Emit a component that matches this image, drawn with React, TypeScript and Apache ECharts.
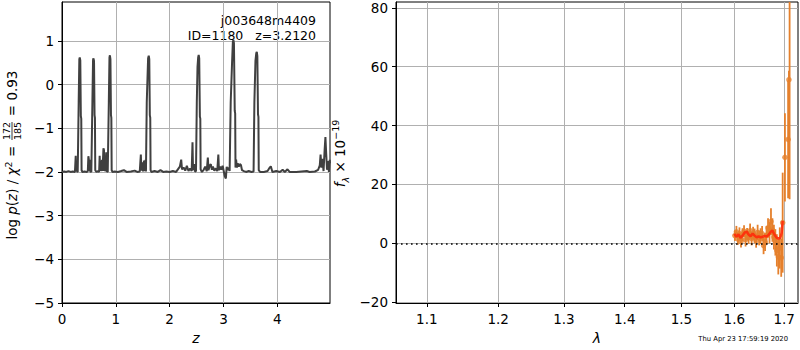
import React, { useEffect, useRef } from 'react';
import * as echarts from 'echarts';

// ---------- Left panel: log p(z) ----------
const zVals = [
  0.0, 0.04, 0.08, 0.12, 0.16, 0.2, 0.24, 0.255, 0.262, 0.272, 0.28, 0.292, 0.31, 0.322, 0.33, 0.34, 0.35, 0.358, 0.364,
  0.38, 0.42, 0.46, 0.48, 0.49, 0.498, 0.505, 0.515, 0.525, 0.545, 0.565, 0.577, 0.585, 0.595, 0.605, 0.612, 0.618,
  0.64, 0.67, 0.69, 0.7, 0.708, 0.72, 0.728, 0.745, 0.753, 0.77, 0.78, 0.788, 0.8, 0.808, 0.822, 0.83, 0.85, 0.87,
  0.882, 0.89, 0.9, 0.91, 0.917, 0.923, 0.94, 0.98, 1.04, 1.1, 1.15, 1.2, 1.28, 1.35, 1.4, 1.445, 1.465, 1.475, 1.495,
  1.505, 1.525, 1.535, 1.552, 1.56, 1.575, 1.6, 1.612, 1.622, 1.632, 1.64, 1.646, 1.66, 1.72, 1.78, 1.83, 1.88, 1.94,
  2.0, 2.06, 2.12, 2.16, 2.19, 2.215, 2.23, 2.26, 2.29, 2.32, 2.35, 2.38, 2.41, 2.425, 2.435, 2.455, 2.47, 2.49, 2.505,
  2.518, 2.53, 2.54, 2.55, 2.562, 2.57, 2.576, 2.6, 2.63, 2.66, 2.69, 2.71, 2.722, 2.745, 2.765, 2.785, 2.805, 2.83,
  2.86, 2.885, 2.905, 2.917, 2.94, 2.96, 2.985, 3.005, 3.025, 3.045, 3.06, 3.075, 3.095, 3.115, 3.135, 3.16, 3.175,
  3.185, 3.195, 3.21, 3.218, 3.224, 3.235, 3.25, 3.265, 3.285, 3.305, 3.325, 3.345, 3.38, 3.42, 3.47, 3.52, 3.56,
  3.575, 3.595, 3.61, 3.62, 3.63, 3.642, 3.65, 3.656, 3.68, 3.75, 3.82, 3.86, 3.88, 3.91, 3.98, 4.05, 4.1, 4.14, 4.19,
  4.23, 4.35, 4.45, 4.55, 4.6, 4.7, 4.76, 4.79, 4.805, 4.82, 4.84, 4.86, 4.88, 4.895, 4.91, 4.925, 4.945, 4.96, 4.975,
  4.98,
];
const logpVals = [
  -2.0, -1.99, -2.0, -1.98, -2.0, -1.99, -2.0, -1.63, -1.98, -1.76, -1.99, -2.0, -0.4, 0.58, 0.62, 0.55, -0.72, -0.78,
  -1.96, -2.0, -1.99, -2.0, -1.98, -1.64, -1.7, -1.98, -1.72, -1.99, -2.0, -0.4, 0.56, 0.6, 0.54, -0.7, -0.76, -1.96,
  -2.0, -1.98, -2.0, -1.63, -1.97, -1.74, -1.98, -1.72, -1.98, -1.46, -1.5, -1.98, -1.8, -1.99, -1.55, -1.98, -2.0,
  -0.4, 0.62, 0.67, 0.58, -0.7, -0.76, -1.96, -2.0, -1.99, -2.0, -1.98, -1.96, -2.0, -1.99, -1.97, -2.0, -1.99, -1.6,
  -1.97, -1.78, -1.99, -1.74, -1.98, -1.72, -1.99, -0.4, 0.6, 0.66, 0.58, -0.7, -0.76, -1.96, -2.0, -1.98, -2.0, -1.96,
  -2.0, -1.99, -2.0, -1.98, -2.0, -1.93, -1.88, -1.72, -1.94, -1.9, -1.97, -1.86, -1.98, -1.92, -1.98, -1.32, -1.96,
  -1.82, -1.99, -1.98, -0.4, 0.4, 0.62, 0.68, 0.6, -0.73, -0.78, -1.94, -2.0, -1.96, -1.88, -1.98, -1.67, -1.96, -1.85,
  -1.82, -1.95, -1.88, -1.97, -1.92, -1.98, -1.6, -1.96, -1.88, -1.95, -1.86, -1.98, -2.1, -2.15, -1.88, -1.96, -1.9,
  -1.98, -0.4, 0.5, 0.98, 1.02, 0.95, -0.6, -0.66, -1.9, -1.72, -1.9, -1.8, -1.88, -1.82, -1.84, -1.96, -1.98, -2.0,
  -1.98, -2.0, -1.99, -0.4, 0.55, 0.72, 0.75, 0.65, -0.68, -0.74, -1.96, -2.0, -2.0, -1.98, -1.9, -1.87, -2.0, -1.98,
  -2.0, -1.95, -2.0, -1.94, -2.0, -2.0, -1.99, -1.98, -2.0, -1.99, -1.95, -1.85, -1.6, -1.9, -1.7, -1.98, -1.5, -1.2,
  -1.6, -1.95, -1.75, -2.0, -1.72, -1.8,
];
const zTicks = [0, 1, 2, 3, 4];
const logpTicks = [-5, -4, -3, -2, -1, 0, 1];

// ---------- Right panel: spectrum ----------
const specWave = [
  1.601, 1.604, 1.607, 1.61, 1.613, 1.616, 1.619, 1.622, 1.625, 1.628, 1.631, 1.634, 1.637, 1.64, 1.643, 1.646, 1.649,
  1.652, 1.655, 1.658, 1.661, 1.664, 1.667, 1.67, 1.673, 1.676, 1.679, 1.682, 1.685, 1.688, 1.691, 1.694, 1.697, 1.7017,
  1.7083, 1.71, 1.7114,
];
const specFlux = [
  2.6, 3.9, 1.4, 3.3, 0.6, 2.9, 4.1, 1.2, 3.1, 2.0, 4.3, 1.6, 3.4, 2.5, 0.9, 3.7, 1.8, 2.4, 3.3, -0.8, 0.4, 2.8, 5.2,
  3.6, 7.4, 4.5, 2.1, 0.3, -2.4, -4.6, -1.6, -4.9, 7.0, 29.2, 35.3, 55.6, 100,
];
const specErr = [
  1.8, 2.0, 1.9, 2.1, 2.0, 2.2, 2.0, 2.3, 2.1, 2.2, 2.4, 2.3, 2.2, 2.5, 2.4, 2.6, 2.5, 2.7, 2.6, 2.9, 3.0, 3.1, 3.3,
  3.6, 4.5, 4.0, 4.2, 4.5, 5.5, 6.0, 7.0, 6.5, 17, 15, 20, 3, 85,
];
const modelWave = [
  1.6, 1.604, 1.608, 1.612, 1.616, 1.62, 1.624, 1.628, 1.632, 1.636, 1.64, 1.644, 1.648, 1.652, 1.656, 1.66, 1.664,
  1.668, 1.672, 1.676, 1.68, 1.684, 1.688, 1.692, 1.695, 1.697,
];
const modelFlux = [
  3.2, 2.2, 3.0, 1.8, 2.6, 3.6, 4.0, 3.0, 2.4, 3.3, 2.6, 2.0, 2.4, 2.0, 2.2, 2.5, 2.3, 2.8, 3.8, 4.3, 3.0, 2.0, 1.6,
  1.8, 3.5, 7.6,
];
const waveTicks = [1.1, 1.2, 1.3, 1.4, 1.5, 1.6, 1.7];
const fluxTicks = [-20, 0, 20, 40, 60, 80];

const objName = 'j003648m4409';
const objInfo = 'ID=1180   z=3.2120';
const stamp = 'Thu Apr 23 17:59:19 2020';

const FONT = 'DejaVu Sans';
const FS = 13.5;
const GRID_C = '#b0b0b0';
const ORANGE = '#e5802c';
const RED = '#ff2a0a';
const minus = (v: number | string) => String(v).replace('-', '\u2212');

function axisBase(extra: any) {
  return {
    axisLine: { show: true, onZero: false, lineStyle: { color: '#000', width: 1 } },
    axisTick: { show: true, length: 4, lineStyle: { color: '#000', width: 1 }, customValues: extra.ticks },
    axisLabel: {
      color: '#000',
      fontSize: FS,
      fontFamily: FONT,
      margin: extra.margin,
      customValues: extra.ticks,
      formatter: extra.formatter,
    },
    splitLine: { show: true, lineStyle: { color: GRID_C, width: 1 } },
  };
}

export default function App() {
  const ref = useRef<HTMLDivElement>(null);
  useEffect(() => {
    const chart = echarts.init(ref.current!, null, { renderer: 'svg' });
    const txt = { fontFamily: FONT, fontSize: FS, fill: '#000' };
    const option: any = {
      animation: false,
      backgroundColor: '#fff',
      textStyle: { fontFamily: FONT },
      grid: [
        { left: 62, top: 2, width: 268, height: 302, show: true, borderColor: '#000', borderWidth: 1, backgroundColor: 'transparent' },
        { left: 396, top: 2, width: 402, height: 302, show: true, borderColor: '#000', borderWidth: 1, backgroundColor: 'transparent' },
      ],
      xAxis: [
        {
          type: 'value', gridIndex: 0, min: 0, max: 4.98,
          name: 'z', nameLocation: 'middle', nameGap: 28,
          nameTextStyle: { fontStyle: 'italic', fontSize: 14, fontFamily: FONT, color: '#000' },
          ...axisBase({ ticks: zTicks, margin: 9, formatter: (v: number) => minus(v) }),
        },
        {
          type: 'log', logBase: 10, gridIndex: 1, min: 1.0595, max: 1.729,
          name: 'λ', nameLocation: 'middle', nameGap: 28,
          nameTextStyle: { fontStyle: 'italic', fontSize: 14, fontFamily: FONT, color: '#000' },
          ...axisBase({ ticks: waveTicks, margin: 9, formatter: (v: number) => Number(v).toFixed(1) }),
        },
      ],
      yAxis: [
        {
          type: 'value', gridIndex: 0, min: -5, max: 1.89,
          ...axisBase({ ticks: logpTicks, margin: 8, formatter: (v: number) => minus(v) }),
        },
        {
          type: 'value', gridIndex: 1, min: -20.3, max: 82,
          ...axisBase({ ticks: fluxTicks, margin: 8, formatter: (v: number) => minus(v) }),
        },
      ],
      series: [
        {
          type: 'line', xAxisIndex: 0, yAxisIndex: 0,
          data: zVals.map((z, i) => [z, logpVals[i]]),
          showSymbol: false, symbol: 'none', clip: true,
          lineStyle: { color: '#404040', width: 2 },
          z: 3,
        },
        {
          type: 'custom', xAxisIndex: 1, yAxisIndex: 1, clip: true,
          data: specWave.map((w, i) => [w, specFlux[i] - specErr[i], specFlux[i] + specErr[i]]),
          encode: { x: 0, y: [1, 2] },
          renderItem: (params: any, api: any) => {
            const p1 = api.coord([api.value(0), api.value(1)]);
            const p2 = api.coord([api.value(0), api.value(2)]);
            return {
              type: 'line',
              shape: { x1: p1[0], y1: p1[1], x2: p2[0], y2: p2[1] },
              style: { stroke: ORANGE, lineWidth: 1.8 },
            };
          },
          z: 3,
        },
        {
          type: 'scatter', xAxisIndex: 1, yAxisIndex: 1, clip: true,
          data: specWave.map((w, i) => [w, specFlux[i]]),
          symbol: 'circle', symbolSize: 5.5,
          itemStyle: { color: ORANGE },
          z: 4,
        },
        {
          type: 'line', xAxisIndex: 1, yAxisIndex: 1, clip: true,
          data: modelWave.map((w, i) => [w, modelFlux[i]]),
          showSymbol: false, symbol: 'none',
          lineStyle: { color: RED, width: 2.5, opacity: 0.9 },
          z: 5,
          markLine: {
            silent: true, symbol: ['none', 'none'], label: { show: false },
            lineStyle: { color: '#000', type: [1.6, 3.4], width: 1.6 },
            data: [{ yAxis: 0 }],
            z: 6,
          },
        },
      ],
      graphic: [
        { type: 'text', x: 316, y: 20, style: { ...txt, fontSize: 12.5, text: objName, align: 'right', verticalAlign: 'middle' } },
        { type: 'text', x: 316, y: 35, style: { ...txt, fontSize: 12.5, text: objInfo, align: 'right', verticalAlign: 'middle' } },
        { type: 'text', x: 788, y: 339, style: { fontFamily: FONT, fontSize: 6.8, fill: '#000', text: stamp, align: 'right', verticalAlign: 'middle' } },
        {
          type: 'group', x: 12, y: 153.5, rotation: Math.PI / 2,
          children: [
            {
              type: 'text', x: 12, y: 0,
              style: {
                text: '{n|log }{i|p}{n|(}{i|z}{n|) / }{i|χ}{s|2}{n| = }',
                align: 'right', verticalAlign: 'middle',
                rich: {
                  n: { fontFamily: FONT, fontSize: FS, fill: '#000', lineHeight: 18 },
                  i: { fontFamily: FONT, fontSize: FS, fontStyle: 'italic', fill: '#000', lineHeight: 18 },
                  s: { fontFamily: FONT, fontSize: 9.5, fill: '#000', verticalAlign: 'top', lineHeight: 18 },
                },
              },
            },
            { type: 'text', x: 22.5, y: -5.5, style: { fontFamily: FONT, fontSize: 9.5, fill: '#000', text: '172', align: 'center', verticalAlign: 'middle' } },
            { type: 'text', x: 22.5, y: 5.5, style: { fontFamily: FONT, fontSize: 9.5, fill: '#000', text: '185', align: 'center', verticalAlign: 'middle' } },
            { type: 'line', shape: { x1: 13.5, y1: 0, x2: 31.5, y2: 0 }, style: { stroke: '#000', lineWidth: 0.8 } },
            {
              type: 'text', x: 33, y: 0,
              style: { fontFamily: FONT, fontSize: FS, fill: '#000', text: ' = 0.93', align: 'left', verticalAlign: 'middle' },
            },
          ],
        },
        {
          type: 'group', x: 340, y: 153.5, rotation: Math.PI / 2,
          children: [
            {
              type: 'text', x: 0, y: 0,
              style: {
                text: '{i|f}{b|λ}{n| × 10}{s|−19}',
                align: 'center', verticalAlign: 'middle',
                rich: {
                  n: { fontFamily: FONT, fontSize: FS, fill: '#000', lineHeight: 20 },
                  i: { fontFamily: FONT, fontSize: FS, fontStyle: 'italic', fill: '#000', lineHeight: 20 },
                  b: { fontFamily: FONT, fontSize: 9.5, fontStyle: 'italic', fill: '#000', verticalAlign: 'bottom', lineHeight: 20 },
                  s: { fontFamily: FONT, fontSize: 9.5, fill: '#000', verticalAlign: 'top', lineHeight: 20 },
                },
              },
            },
          ],
        },
      ],
    };
    chart.setOption(option);
    return () => chart.dispose();
  }, []);
  return (
    <div
      ref={ref}
      style={{ position: 'fixed', left: 0, top: 0, width: 800, height: 350, background: '#fff' }}
    />
  );
}
